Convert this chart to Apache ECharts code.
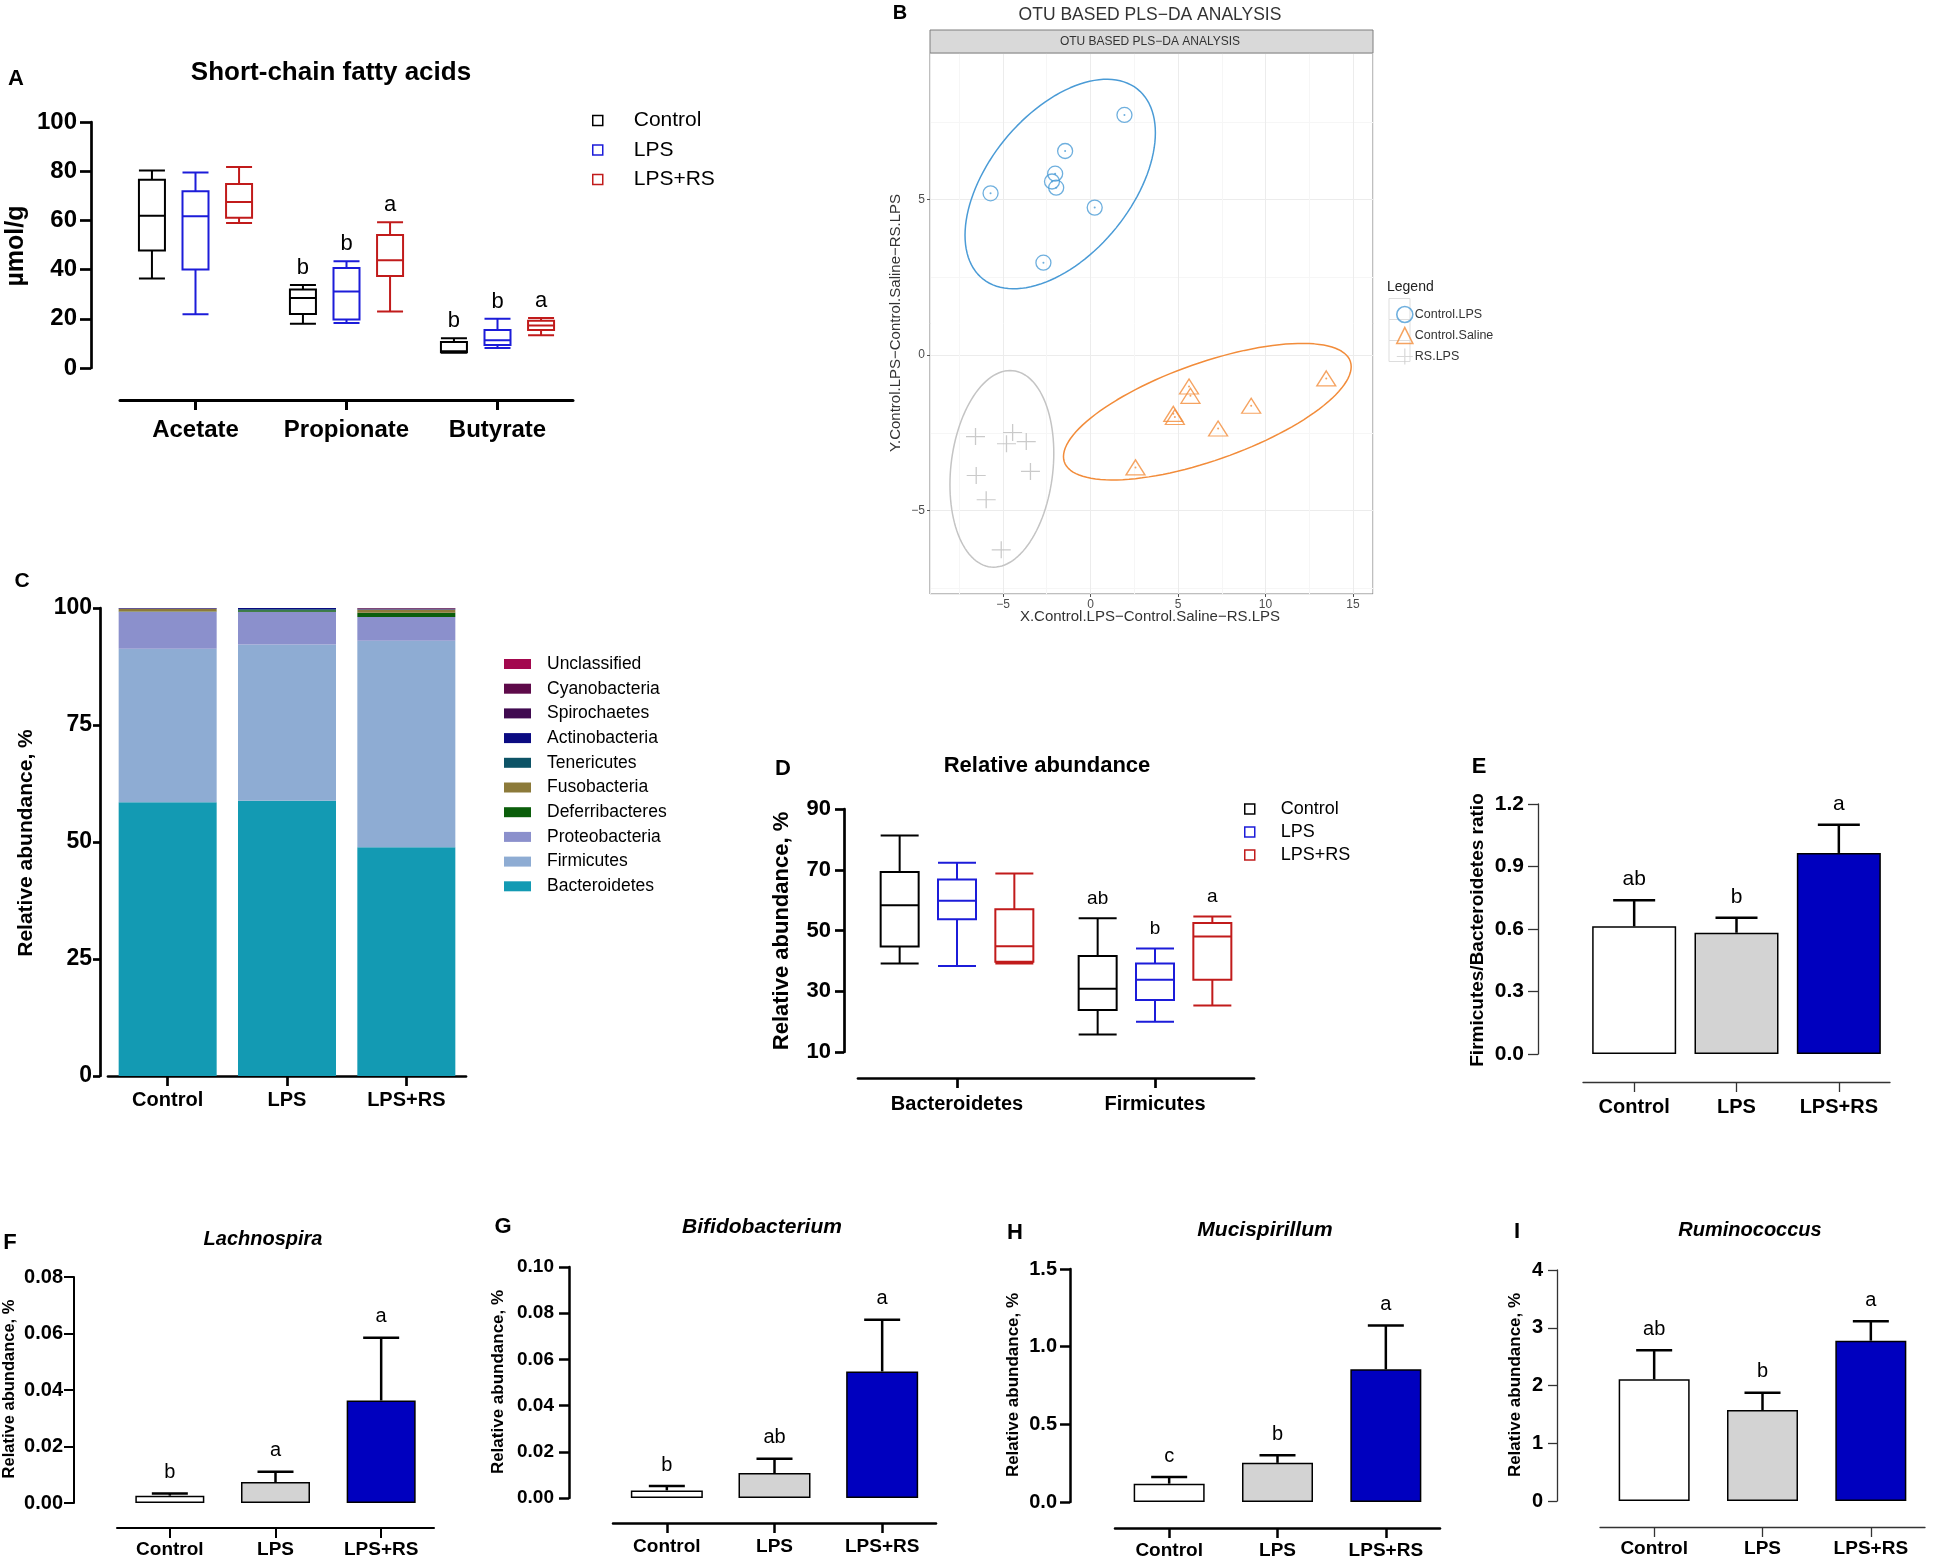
<!DOCTYPE html>
<html>
<head>
<meta charset="utf-8">
<title>SCFA and gut microbiota</title>
<script src="https://cdn.jsdelivr.net/npm/echarts@6/dist/echarts.min.js"></script>
<style>
  html, body { margin: 0; padding: 0; background: #fff; }
  #chart { width: 1946px; height: 1561px; }
</style>
</head>
<body>
<div id="chart"></div>
<script>
// ---- values ----
const groups = ['Control', 'LPS', 'LPS+RS'];
const groupLine = ['#000000', '#1c1cd9', '#c11b1b'];   // box outlines (A, D)
const barFill = ['#ffffff', '#d3d3d3', '#0000bf'];      // bar fills (E-I)

// A: short-chain fatty acids, [min, Q1, median, Q3, max]
const acids = ['Acetate', 'Propionate', 'Butyrate'];
const scfaControl = [[36.4, 47.8, 61.9, 76.5, 80.3], [18.0, 22.0, 28.5, 31.9, 33.7], [6.2, 6.4, 6.8, 10.6, 12.1]];
const scfaLPS = [[21.9, 40.0, 61.7, 71.9, 79.5], [18.3, 19.7, 31.1, 40.7, 43.4], [8.1, 9.4, 11.3, 15.4, 20.0]];
const scfaLPSRS = [[58.9, 61.1, 67.5, 74.8, 81.7], [23.0, 37.4, 43.8, 54.1, 59.2], [13.3, 15.4, 17.3, 19.2, 20.3]];
const scfaLetters = [['', 'b', 'b'], ['', 'b', 'b'], ['', 'a', 'a']];

// B: PLS-DA scores
const lpsX = [1.94, -1.45, -2.02, -2.2, -1.96, -5.71, 0.24, -2.69];
const lpsY = [7.72, 6.56, 5.83, 5.58, 5.38, 5.20, 4.74, 2.97];
const salineX = [13.47, 5.63, 5.71, 9.18, 4.73, 4.82, 7.29, 2.57];
const salineY = [-0.75, -1.01, -1.31, -1.63, -1.89, -1.99, -2.36, -3.61];
const rsX = [-6.57, -4.45, -4.8, -3.67, -6.53, -3.43, -5.96, -5.1];
const rsY = [-2.62, -2.49, -2.85, -2.78, -3.87, -3.74, -4.65, -6.26];

// C: phylum composition, % (Control, LPS, LPS+RS)
const bacteroidetes = [58.5, 58.8, 48.9];
const firmicutes = [32.8, 33.4, 44.1];
const proteobacteria = [7.9, 7.0, 5.1];
const deferribacteres = [0.05, 0.3, 0.9];
const fusobacteria = [0.55, 0.02, 0.6];
const tenericutes = [0.05, 0.2, 0.1];
const actinobacteria = [0.1, 0.26, 0.05];
const spirochaetes = [0.02, 0.01, 0.15];
const cyanobacteria = [0.02, 0.01, 0.1];
const unclassified = [0.01, 0.0, 0.0];

// D: relative abundance boxes, [min, Q1, median, Q3, max]
const phylaCats = ['Bacteroidetes', 'Firmicutes'];
const abControl = [[39.1, 44.7, 58.3, 69.3, 81.3], [15.8, 23.8, 30.8, 41.6, 54.0]];
const abLPS = [[38.3, 53.7, 59.8, 66.8, 72.3], [20.0, 27.1, 33.8, 39.1, 44.1]];
const abLPSRS = [[39.1, 39.7, 44.8, 57.0, 68.8], [25.3, 33.8, 48.0, 52.5, 54.6]];
const abLetters = [['', 'ab'], ['', 'b'], ['', 'a']];

// E-I: mean and SEM
const ratioMean = [0.613, 0.582, 0.965], ratioSem = [0.125, 0.072, 0.135], ratioLetters = ['ab', 'b', 'a'];
const lachMean = [0.0026, 0.0074, 0.0363], lachSem = [0.0008, 0.0037, 0.0222], lachLetters = ['b', 'a', 'a'];
const bifidoMean = [0.0033, 0.0108, 0.0548], bifidoSem = [0.0019, 0.0062, 0.0224], bifidoLetters = ['b', 'ab', 'a'];
const mucisMean = [0.118, 0.252, 0.854], mucisSem = [0.043, 0.049, 0.282], mucisLetters = ['c', 'b', 'a'];
const rumMean = [2.107, 1.576, 2.776], rumSem = [0.502, 0.300, 0.335], rumLetters = ['ab', 'b', 'a'];

const FONT = "'Liberation Sans', Arial, sans-serif";
const PLUS = 'path://M0,10H20M10,0V20';

const chart = echarts.init(document.getElementById('chart'));

function txt(x, y, text, size, o) {
  o = o || {};
  return { type: 'text', x: x, y: y, rotation: o.rot || 0, z: 100,
    style: { text: text, fill: o.color || '#000', fontSize: size, fontWeight: o.weight || 'bold',
      fontStyle: o.italic ? 'italic' : 'normal', fontFamily: FONT,
      align: o.align || 'center', verticalAlign: 'middle' } };
}

function catAxis(idx, cats, o) {
  return { type: 'category', gridIndex: idx, data: cats, position: 'bottom', offset: o.offset,
    axisLine: { onZero: false, lineStyle: { color: o.color || '#000', width: o.lw } },
    axisTick: { show: true, alignWithLabel: true, length: 10, lineStyle: { color: o.color || '#000', width: o.lw } },
    axisLabel: { interval: 0, margin: o.margin, color: '#000', fontWeight: 'bold', fontSize: o.size, fontFamily: FONT } };
}

function valAxis(idx, min, max, interval, o) {
  return { type: 'value', gridIndex: idx, min: min, max: max, interval: interval, offset: o.offset,
    axisLine: { show: true, onZero: false, lineStyle: { color: o.color || '#000', width: o.lw } },
    axisTick: { show: true, length: o.tick || 9, lineStyle: { color: o.color || '#000', width: o.lw } },
    splitLine: { show: false },
    axisLabel: { margin: o.margin, color: '#000', fontWeight: 'bold', fontSize: o.size, fontFamily: FONT,
      formatter: v => o.dec == null ? String(v) : v.toFixed(o.dec) } };
}

function boxSeries(idx, gi, data, width) {
  return { type: 'boxplot', name: groups[gi], xAxisIndex: idx, yAxisIndex: idx, data: data,
    boxWidth: [width, width], emphasis: { disabled: true },
    itemStyle: { color: '#fff', borderColor: groupLine[gi], borderWidth: 2 } };
}

// letters above the boxes; offset follows the boxplot side-by-side layout
function boxLetters(idx, gi, data, letters, gap, size) {
  return { type: 'custom', xAxisIndex: idx, yAxisIndex: idx, z: 10, silent: true,
    data: data.map((d, i) => [i, d[4]]),
    renderItem: (params, api) => {
      const p = api.coord([api.value(0), api.value(1)]);
      const band = api.size([1, 0])[0];
      const step = (band * 0.8 - 2) * 1.1 / 3;
      return { type: 'text', x: p[0] + (gi - 1) * step, y: p[1] - gap,
        style: { text: letters[params.dataIndex], fill: '#000', fontSize: size, fontFamily: FONT,
          align: 'center', verticalAlign: 'middle' } };
    } };
}

function barSeries(idx, means, width) {
  return { type: 'bar', xAxisIndex: idx, yAxisIndex: idx, barWidth: width, z: 2,
    data: means.map((v, i) => ({ value: v, itemStyle: { color: barFill[i] } })),
    itemStyle: { borderColor: '#000', borderWidth: 1.5 } };
}

function errorBars(idx, means, sems, letters, cap, size) {
  return { type: 'custom', xAxisIndex: idx, yAxisIndex: idx, z: 10, silent: true,
    data: means.map((m, i) => [i, m, m + sems[i]]),
    renderItem: (params, api) => {
      const base = api.coord([api.value(0), api.value(1)]);
      const top = api.coord([api.value(0), api.value(2)]);
      const st = { stroke: '#000', lineWidth: 2.5 };
      return { type: 'group', children: [
        { type: 'line', shape: { x1: base[0], y1: base[1], x2: top[0], y2: top[1] }, style: st },
        { type: 'line', shape: { x1: top[0] - cap / 2, y1: top[1], x2: top[0] + cap / 2, y2: top[1] }, style: st },
        { type: 'text', x: top[0], y: top[1] - 21,
          style: { text: letters[params.dataIndex], fill: '#000', fontSize: size, fontFamily: FONT,
            align: 'center', verticalAlign: 'middle' } }
      ] };
    } };
}

// 95% normal confidence ellipse from the sample covariance of the points
function ellipse(xs, ys) {
  const n = xs.length;
  const mx = xs.reduce((a, b) => a + b, 0) / n;
  const my = ys.reduce((a, b) => a + b, 0) / n;
  let sxx = 0, syy = 0, sxy = 0;
  for (let i = 0; i < n; i++) {
    sxx += (xs[i] - mx) ** 2; syy += (ys[i] - my) ** 2; sxy += (xs[i] - mx) * (ys[i] - my);
  }
  sxx /= n - 1; syy /= n - 1; sxy /= n - 1;
  const k = Math.sqrt(5.991);
  const a = Math.sqrt(sxx), b = sxy / a, c = Math.sqrt(syy - b * b);
  const pts = [];
  for (let i = 0; i <= 120; i++) {
    const t = i / 120 * 2 * Math.PI;
    pts.push([mx + k * a * Math.cos(t), my + k * (b * Math.cos(t) + c * Math.sin(t))]);
  }
  return pts;
}

const zip = (xs, ys) => xs.map((x, i) => [x, ys[i]]);
const minus = v => String(v).replace('-', '\u2212');

const plsColors = { lps: '#4a9bd6', saline: '#f28c3a', rs: '#c4c4c4' };

const phyla = [
  ['Bacteroidetes', bacteroidetes, '#139ab3'],
  ['Firmicutes', firmicutes, '#8eacd3'],
  ['Proteobacteria', proteobacteria, '#8b90cc'],
  ['Deferribacteres', deferribacteres, '#0b5e0b'],
  ['Fusobacteria', fusobacteria, '#8c7a3a'],
  ['Tenericutes', tenericutes, '#0d5366'],
  ['Actinobacteria', actinobacteria, '#0b0b82'],
  ['Spirochaetes', spirochaetes, '#400a50'],
  ['Cyanobacteria', cyanobacteria, '#5e0a4a'],
  ['Unclassified', unclassified, '#a3084e']
];

const grids = [
  { left: 120, top: 122, width: 453, height: 246 },   // A
  { left: 930, top: 53, width: 443, height: 541, show: true, backgroundColor: '#fff', borderColor: '#7f7f7f', borderWidth: 1 }, // B
  { left: 108, top: 608, width: 358, height: 468 },   // C
  { left: 858, top: 809, width: 396, height: 243 },   // D
  { left: 1583, top: 804, width: 307, height: 250 },  // E
  { left: 117, top: 1277, width: 317, height: 226 },  // F
  { left: 613, top: 1267, width: 323, height: 231 },  // G
  { left: 1115, top: 1269, width: 325, height: 233 }, // H
  { left: 1600, top: 1270, width: 325, height: 231 }  // I
].map(g => Object.assign({ outerBoundsMode: 'none' }, g));

const plsAxisCommon = {
  axisLine: { show: false, onZero: false },
  axisTick: { show: true, length: 3, lineStyle: { color: '#555' } },
  axisLabel: { color: '#4d4d4d', fontSize: 12, fontFamily: FONT, margin: 5, showMinLabel: false, showMaxLabel: false, formatter: minus },
  splitLine: { show: true, lineStyle: { color: '#ececec', width: 1 } },
  minorTick: { show: false, splitNumber: 2 },
  minorSplitLine: { show: true, lineStyle: { color: '#f6f6f6', width: 1 } }
};

const xAxes = [
  catAxis(0, acids, { offset: 32, lw: 3, margin: 18, size: 24 }),
  Object.assign({ type: 'value', gridIndex: 1, min: -9.17, max: 16.14, splitNumber: 5 }, plsAxisCommon),
  catAxis(2, groups, { offset: 0, lw: 2.7, margin: 14, size: 20 }),
  catAxis(3, phylaCats, { offset: 26, lw: 2.7, margin: 16, size: 20 }),
  catAxis(4, groups, { offset: 28, lw: 1.3, margin: 15, size: 20, color: '#333' }),
  catAxis(5, groups, { offset: 25, lw: 2, margin: 12, size: 19 }),
  catAxis(6, groups, { offset: 25, lw: 2.5, margin: 14, size: 19 }),
  catAxis(7, groups, { offset: 26, lw: 2.5, margin: 13, size: 19 }),
  catAxis(8, groups, { offset: 26, lw: 1.3, margin: 12, size: 19, color: '#333' })
];

const yAxes = [
  valAxis(0, 0, 100, 20, { offset: 29, lw: 2.7, margin: 14, size: 24, tick: 11 }),
  Object.assign({ type: 'value', gridIndex: 1, min: -7.68, max: 9.71, splitNumber: 3 }, plsAxisCommon),
  valAxis(2, 0, 100, 25, { offset: 8, lw: 2.7, margin: 8, size: 23, tick: 7 }),
  valAxis(3, 10, 90, 20, { offset: 14, lw: 2.7, margin: 13, size: 22 }),
  valAxis(4, 0, 1.2, 0.3, { offset: 45, lw: 1.3, margin: 14, size: 21, dec: 1, tick: 10, color: '#333' }),
  valAxis(5, 0, 0.08, 0.02, { offset: 43, lw: 2, margin: 11, size: 20, dec: 2, tick: 10 }),
  valAxis(6, 0, 0.1, 0.02, { offset: 44, lw: 2.5, margin: 15, size: 19, dec: 2, tick: 10 }),
  valAxis(7, 0, 1.5, 0.5, { offset: 45, lw: 2.5, margin: 13, size: 20, dec: 1, tick: 10 }),
  valAxis(8, 0, 4, 1, { offset: 43, lw: 1.3, margin: 14, size: 20, tick: 9, color: '#333' })
];

const series = [];
// A
[scfaControl, scfaLPS, scfaLPSRS].forEach((d, gi) => {
  series.push(boxSeries(0, gi, d, 26));
  series.push(boxLetters(0, gi, d, scfaLetters[gi], 17, 22));
});
// B
series.push(
  { type: 'line', xAxisIndex: 1, yAxisIndex: 1, data: ellipse(lpsX, lpsY), symbol: 'none', silent: true, lineStyle: { color: plsColors.lps, width: 1.5 } },
  { type: 'line', xAxisIndex: 1, yAxisIndex: 1, data: ellipse(salineX, salineY), symbol: 'none', silent: true, lineStyle: { color: plsColors.saline, width: 1.5 } },
  { type: 'line', xAxisIndex: 1, yAxisIndex: 1, data: ellipse(rsX, rsY), symbol: 'none', silent: true, lineStyle: { color: plsColors.rs, width: 1.5 } },
  { type: 'scatter', name: 'Control.LPS', xAxisIndex: 1, yAxisIndex: 1, data: zip(lpsX, lpsY), symbol: 'circle', symbolSize: 15,
    itemStyle: { color: 'rgba(0,0,0,0)', borderColor: plsColors.lps, borderWidth: 1.3 } },
  { type: 'scatter', name: 'Control.Saline', xAxisIndex: 1, yAxisIndex: 1, data: zip(salineX, salineY), symbol: 'triangle', symbolSize: [19, 15],
    itemStyle: { color: 'rgba(0,0,0,0)', borderColor: plsColors.saline, borderWidth: 1.3 } },
  { type: 'scatter', name: 'RS.LPS', xAxisIndex: 1, yAxisIndex: 1, data: zip(rsX, rsY), symbol: PLUS, symbolSize: [19, 17],
    itemStyle: { color: 'rgba(0,0,0,0)', borderColor: '#bdbdbd', borderWidth: 1.2 } },
  { type: 'scatter', name: 'lpsDot', xAxisIndex: 1, yAxisIndex: 1, data: zip(lpsX, lpsY), symbolSize: 2, itemStyle: { color: plsColors.lps } },
  { type: 'scatter', name: 'salineDot', xAxisIndex: 1, yAxisIndex: 1, data: zip(salineX, salineY), symbolSize: 2, itemStyle: { color: plsColors.saline } }
);
// C
phyla.forEach(([name, vals, color]) => {
  series.push({ type: 'bar', name: name, stack: 'phyla', xAxisIndex: 2, yAxisIndex: 2, barWidth: 98,
    data: vals, itemStyle: { color: color } });
});
// D
[abControl, abLPS, abLPSRS].forEach((d, gi) => {
  series.push(boxSeries(3, gi, d, 38));
  series.push(boxLetters(3, gi, d, abLetters[gi], 20, 19));
});
// E-I
[[4, ratioMean, ratioSem, ratioLetters, 84, 42, 21],
 [5, lachMean, lachSem, lachLetters, 69, 36, 20],
 [6, bifidoMean, bifidoSem, bifidoLetters, 72, 36, 20],
 [7, mucisMean, mucisSem, mucisLetters, 71, 36, 20],
 [8, rumMean, rumSem, rumLetters, 71, 36, 20]].forEach(([idx, m, s, l, w, cap, fs]) => {
  series.push(barSeries(idx, m, w));
  series.push(errorBars(idx, m, s, l, cap, fs));
});

const boxLegendItems = groups.map((g, i) => ({ name: g, icon: 'rect',
  itemStyle: { color: '#fff', borderColor: groupLine[i], borderWidth: 1.5 } }));

const legends = [
  { orient: 'vertical', left: 587, top: 104, itemWidth: 10, itemHeight: 10, itemGap: 6.5, selectedMode: false,
    data: boxLegendItems, textStyle: { fontFamily: FONT, fontSize: 21, lineHeight: 23, color: '#000', padding: [0, 0, 0, 26] } },
  { orient: 'vertical', left: 1391, top: 299, itemWidth: 16, itemHeight: 16, itemGap: 0, selectedMode: false,
    data: [
      { name: 'Control.LPS', icon: 'circle', itemStyle: { color: 'rgba(0,0,0,0)', borderColor: plsColors.lps, borderWidth: 1.6 } },
      { name: 'Control.Saline', icon: 'triangle', itemStyle: { color: 'rgba(0,0,0,0)', borderColor: plsColors.saline, borderWidth: 1.6 } },
      { name: 'RS.LPS', icon: PLUS, itemStyle: { color: 'rgba(0,0,0,0)', borderColor: '#cfcfcf', borderWidth: 1.2 } }
    ],
    textStyle: { fontFamily: FONT, fontSize: 12.5, lineHeight: 21, color: '#333', padding: [0, 0, 0, -3] } },
  { orient: 'vertical', left: 499, top: 650, itemWidth: 27, itemHeight: 10, itemGap: 6.7, selectedMode: false,
    data: phyla.map(p => ({ name: p[0], icon: 'rect' })).reverse(),
    textStyle: { fontFamily: FONT, fontSize: 17.5, lineHeight: 18, color: '#000', padding: [0, 0, 0, 11] } },
  { orient: 'vertical', left: 1239, top: 794, itemWidth: 10, itemHeight: 10, itemGap: 3, selectedMode: false,
    data: boxLegendItems, textStyle: { fontFamily: FONT, fontSize: 18, lineHeight: 20, color: '#000', padding: [0, 0, 0, 21] } }
];

const texts = [
  // panel letters
  txt(16, 79, 'A', 22), txt(900, 13, 'B', 20), txt(22, 581, 'C', 21), txt(783, 769, 'D', 22),
  txt(1479, 767, 'E', 22), txt(10, 1243, 'F', 22), txt(503, 1227, 'G', 22), txt(1015, 1233, 'H', 22),
  txt(1517, 1232, 'I', 22),
  // titles
  txt(331, 73, 'Short-chain fatty acids', 26),
  txt(1150, 15, 'OTU BASED PLS\u2212DA ANALYSIS', 17.5, { weight: 'normal', color: '#333' }),
  txt(1047, 766, 'Relative abundance', 22),
  txt(263, 1239, 'Lachnospira', 20, { italic: true }),
  txt(762, 1227, 'Bifidobacterium', 21, { italic: true }),
  txt(1265, 1230, 'Mucispirillum', 21, { italic: true }),
  txt(1750, 1230, 'Ruminococcus', 20, { italic: true }),
  // y-axis titles
  txt(16, 246, '\u00b5mol/g', 25, { rot: Math.PI / 2 }),
  txt(26, 843, 'Relative abundance, %', 21, { rot: Math.PI / 2 }),
  txt(782, 931, 'Relative abundance, %', 22, { rot: Math.PI / 2 }),
  txt(1478, 930, 'Firmicutes/Bacteroidetes ratio', 19, { rot: Math.PI / 2 }),
  txt(9, 1389, 'Relative abundance, %', 16.5, { rot: Math.PI / 2 }),
  txt(498, 1382, 'Relative abundance, %', 17, { rot: Math.PI / 2 }),
  txt(1013, 1385, 'Relative abundance, %', 17, { rot: Math.PI / 2 }),
  txt(1515, 1385, 'Relative abundance, %', 17, { rot: Math.PI / 2 }),
  // PLS-DA decorations
  txt(896, 323, 'Y.Control.LPS\u2212Control.Saline\u2212RS.LPS', 15, { rot: Math.PI / 2, weight: 'normal', color: '#333' }),
  txt(1150, 617, 'X.Control.LPS\u2212Control.Saline\u2212RS.LPS', 15, { weight: 'normal', color: '#333' }),
  { type: 'rect', shape: { x: 930, y: 30, width: 443, height: 23 }, z: 1,
    style: { fill: '#d9d9d9', stroke: '#7f7f7f', lineWidth: 1 } },
  txt(1150, 41.5, 'OTU BASED PLS\u2212DA ANALYSIS', 12, { weight: 'normal', color: '#333' }),
  txt(1387, 287, 'Legend', 14, { weight: 'normal', color: '#222', align: 'left' }),
  { type: 'rect', shape: { x: 1389, y: 298.5, width: 21, height: 21 }, z: 1, style: { fill: '#fff', stroke: '#dddddd' } },
  { type: 'rect', shape: { x: 1389, y: 319.5, width: 21, height: 21 }, z: 1, style: { fill: '#fff', stroke: '#dddddd' } },
  { type: 'rect', shape: { x: 1389, y: 340.5, width: 21, height: 21 }, z: 1, style: { fill: '#fff', stroke: '#dddddd' } }
];

chart.setOption({
  animation: false,
  backgroundColor: '#fff',
  grid: grids,
  xAxis: xAxes,
  yAxis: yAxes,
  legend: legends,
  series: series,
  graphic: { elements: texts }
});
</script>
</body>
</html>
